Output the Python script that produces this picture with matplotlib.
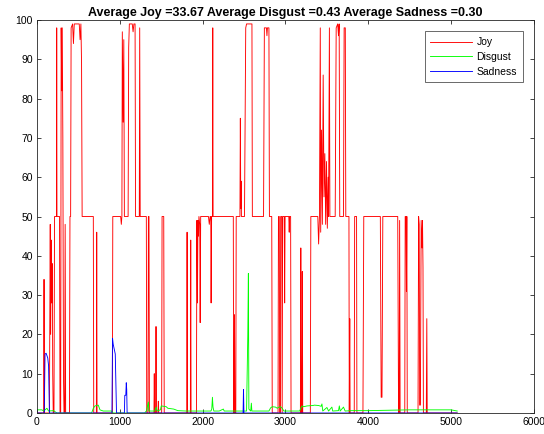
import numpy as np
import matplotlib
matplotlib.use("Agg")
import matplotlib.pyplot as plt

plt.rcParams['font.family'] = ['Liberation Sans', 'DejaVu Sans']

# Joy series (frame index, value)
joy_x = [0, 80, 85, 90, 150, 160, 165, 172, 178, 185, 190, 196, 205, 212, 235, 238, 241, 272,
         278, 286, 292, 298, 305, 312, 320, 326, 334, 340, 346, 392, 398, 406, 412, 430, 440,
         450, 510, 520, 530, 538, 545, 680, 685, 717, 721, 725, 910, 915, 1010, 1018, 1025,
         1030, 1040, 1048, 1055, 1100, 1107, 1115, 1150, 1160, 1170, 1184, 1190, 1235, 1240,
         1246, 1320, 1325, 1340, 1345, 1352, 1357, 1412, 1416, 1420, 1432, 1437, 1442, 1460,
         1465, 1470, 1505, 1510, 1530, 1536, 1808, 1812, 1816, 1852, 1856, 1860, 1925, 1930,
         1937, 1943, 1950, 1955, 1965, 1970, 1976, 2070, 2080, 2090, 2098, 2102, 2108, 2118,
         2122, 2126, 2370, 2374, 2380, 2384, 2390, 2400, 2405, 2450, 2455, 2460, 2464, 2468,
         2505, 2520, 2530, 2595, 2600, 2735, 2745, 2770, 2776, 2782, 2800, 2806, 2834, 2840,
         2910, 2915, 2925, 2930, 2938, 2942, 2955, 2960, 2966, 2985, 2990, 2995, 3040, 3045,
         3050, 3062, 3067, 3180, 3185, 3190, 3198, 3203, 3208, 3300, 3306, 3390, 3400, 3410,
         3420, 3425, 3435, 3445, 3455, 3465, 3475, 3485, 3495, 3505,
         3515, 3520, 3530, 3536, 3600, 3612, 3630, 3640, 3648, 3655, 3700, 3708, 3722, 3728,
         3766, 3770, 3776, 3780, 3830, 3835, 3858, 3862, 3935, 3945, 4145, 4155, 4165, 4175,
         4355, 4365, 4373, 4378, 4384, 4440, 4445, 4455, 4460, 4465, 4470, 4600, 4607, 4614,
         4620, 4628, 4638, 4648, 4654, 4660, 4665, 4700, 4706, 4711, 5073]
joy_y = [0, 0, 34, 0, 0, 48, 20, 44, 28, 38, 10, 0, 0, 50, 50, 98, 50, 50,
         0, 0, 98, 82, 98, 70, 9, 0, 0, 48, 0, 0, 50, 50, 98, 99, 94,
         99, 99, 95, 99, 89, 50, 50, 0, 0, 46, 0, 0, 50, 50, 48, 50,
         97, 74, 95, 50, 50, 93, 99, 99, 97, 99, 99, 50, 50, 98,
         50, 50, 0, 0, 50, 50, 0, 0, 10, 0, 0, 22, 0, 0,
         3, 0, 0, 50, 50, 0, 0, 46, 0, 0, 44, 0, 0, 49,
         28, 49, 45, 50, 48, 23, 50, 50, 48, 50, 50, 28, 50, 50,
         98, 50, 50, 0, 0, 25, 0, 0, 50, 50, 75, 52, 59, 50,
         50, 98, 99, 99, 50, 50, 98, 98, 96, 98, 98, 50, 50, 0,
         0, 50, 50, 0, 0, 50, 50, 0, 50, 50, 28, 50, 50, 46,
         50, 50, 0, 0, 42, 0, 0, 36, 0, 0, 50, 50, 43, 50,
         98, 46, 72, 48, 86, 55, 66, 48, 64, 47,
         60, 50, 98, 50, 50, 98, 99, 96, 99, 50, 50, 98, 98, 50,
         50, 0, 24, 0, 0, 50, 50, 0, 0, 50, 50, 4, 4, 50,
         50, 0, 0, 49, 0, 0, 50, 50, 31, 50, 0, 0, 50, 48,
         2, 2, 49, 42, 49, 37, 0, 0, 24, 0, 0]

# Disgust series
disgust_x = [0, 60, 80, 120, 140, 200, 240, 660, 680, 700, 740, 760, 800, 900, 920, 1300,
             1320, 1345, 1350, 1420, 1440, 1450, 1490, 1500, 1560, 1580, 1650, 1700, 1800,
             2100, 2110, 2118, 2125, 2135, 2200, 2250, 2260, 2530, 2545, 2552, 2558, 2580,
             2588, 2594, 2800, 2820, 2840, 2880, 2900, 2920, 2940, 2960, 2980, 3170, 3200,
             3220, 3260, 3330, 3350, 3400, 3430, 3440, 3450, 3500, 3520, 3560, 3570, 3640,
             3650, 3660, 3700, 3720, 3800, 4000, 4500, 5000, 5073]
disgust_y = [0.8, 0.8, 0.5, 1.2, 0.5, 0.6, 0, 0, 1.2, 1.8, 2.0, 0.8, 0.5, 0.5, 0, 0,
             0.5, 2.8, 0.5, 0.5, 1.5, 0.5, 0.8, 1.8, 1.6, 1.2, 1.0, 0.6, 0.5,
             0.5, 1.0, 4.0, 1.5, 0.5, 0.5, 1.0, 0.5, 0.5, 20, 35.5, 1.0, 0.5,
             2.5, 0.5, 0.5, 1.3, 1.6, 1.5, 1.2, 1.5, 1.6, 1.2, 0.5, 0.5, 1.8,
             1.6, 1.8, 1.9, 2.0, 1.9, 1.7, 2.3, 0.5, 1.4, 0.5, 1.5, 0.5, 0.6,
             1.8, 0.5, 1.5, 0.5, 0.6, 0.6, 0.8, 0.8, 0.5]

# Sadness series
sadness_x = [0, 88, 97, 110, 130, 140, 150, 905, 912, 920, 935, 945, 960, 1055, 1060, 1072,
             1078, 1083, 1088, 2488, 2493, 2498, 5073]
sadness_y = [0, 0, 15, 15.2, 14, 12, 0, 0, 19, 17.5, 16, 15, 0, 0, 4.5, 4.5,
             7.7, 6, 0, 0, 6, 0, 0]

title = "Average Joy =33.67 Average Disgust =0.43 Average Sadness =0.30"

fig = plt.figure(figsize=(5.44, 4.34), dpi=100)
ax = fig.add_axes([0.068, 0.0484, 0.9136, 0.9055])

ax.plot(joy_x, joy_y, color=(1, 0, 0), lw=0.65, label="Joy")
ax.plot(disgust_x, disgust_y, color=(0, 1, 0), lw=0.65, label="Disgust")
ax.plot(sadness_x, sadness_y, color=(0, 0, 1), lw=0.65, label="Sadness")

ax.set_xlim(0, 6000)
ax.set_ylim(0, 100)
ax.set_xticks(np.arange(0, 6001, 1000))
ax.set_yticks(np.arange(0, 101, 10))
ax.tick_params(direction="in", top=True, right=True, labelsize=7.5,
               color="#262626", length=3, width=0.6, pad=3)
for s in ax.spines.values():
    s.set_color("#262626")
    s.set_linewidth(0.6)

ax.set_title(title, fontsize=9, fontweight="bold", pad=3)

leg = ax.legend(loc="upper right", fontsize=7.5, frameon=True, fancybox=False,
                handlelength=4.0, borderaxespad=1.1, labelspacing=0.45,
                handletextpad=0.4, borderpad=0.55)
leg.get_frame().set_edgecolor("#262626")
leg.get_frame().set_linewidth(0.6)

fig.savefig("out.png", dpi=100)
